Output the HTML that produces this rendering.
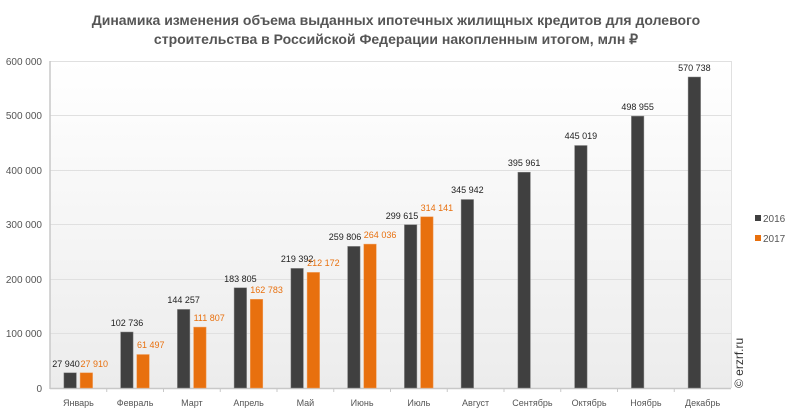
<!DOCTYPE html>
<html><head><meta charset="utf-8"><style>
body{margin:0;background:#fff;width:793px;height:415px;overflow:hidden;font-family:"Liberation Sans",Arial,sans-serif}
</style></head><body>
<svg width="793" height="415" xmlns="http://www.w3.org/2000/svg" font-family="Liberation Sans, Arial, sans-serif">
<defs><linearGradient id="bg" x1="0" y1="0" x2="0" y2="1"><stop offset="0" stop-color="#ffffff"/><stop offset="1" stop-color="#ececec"/></linearGradient></defs>
<text x="396" y="25" text-anchor="middle" font-size="14" font-weight="bold" fill="#555">Динамика изменения объема выданных ипотечных жилищных кредитов для долевого</text>
<text x="396" y="44" text-anchor="middle" font-size="14" font-weight="bold" fill="#555">строительства  в Российской  Федерации накопленным итогом, млн ₽</text>
<rect x="50" y="61" width="681" height="327" fill="url(#bg)"/>
<g stroke="#e0e0e0" stroke-width="1">
<line x1="50" x2="731" y1="61.5" y2="61.5"/><line x1="50" x2="731" y1="115.5" y2="115.5"/><line x1="50" x2="731" y1="170.5" y2="170.5"/><line x1="50" x2="731" y1="224.5" y2="224.5"/><line x1="50" x2="731" y1="279.5" y2="279.5"/><line x1="50" x2="731" y1="333.5" y2="333.5"/>
<line x1="731.5" x2="731.5" y1="61" y2="388"/>
</g>
<g stroke="#c8c8c8" stroke-width="1.5"><line x1="50" x2="50" y1="61" y2="389"/><line x1="50" x2="731" y1="388.5" y2="388.5"/></g>
<g stroke="#c8c8c8"><line x1="106.75" x2="106.75" y1="388" y2="392"/><line x1="163.5" x2="163.5" y1="388" y2="392"/><line x1="220.25" x2="220.25" y1="388" y2="392"/><line x1="277" x2="277" y1="388" y2="392"/><line x1="333.75" x2="333.75" y1="388" y2="392"/><line x1="390.5" x2="390.5" y1="388" y2="392"/><line x1="447.25" x2="447.25" y1="388" y2="392"/><line x1="504" x2="504" y1="388" y2="392"/><line x1="560.75" x2="560.75" y1="388" y2="392"/><line x1="617.5" x2="617.5" y1="388" y2="392"/><line x1="674.25" x2="674.25" y1="388" y2="392"/></g>
<g font-size="10" fill="#555" text-anchor="end">
<text x="42" y="65">600 000</text><text x="42" y="119">500 000</text><text x="42" y="174">400 000</text><text x="42" y="228">300 000</text><text x="42" y="283">200 000</text><text x="42" y="337">100 000</text><text x="42" y="392">0</text>
</g>
<g font-size="9" fill="#555" text-anchor="middle">
<text x="78.4" y="406">Январь</text><text x="135.1" y="406">Февраль</text><text x="191.9" y="406">Март</text><text x="248.6" y="406">Апрель</text><text x="305.4" y="406">Май</text><text x="362.1" y="406">Июнь</text><text x="418.9" y="406">Июль</text><text x="475.6" y="406">Август</text><text x="532.4" y="406">Сентябрь</text><text x="589.1" y="406">Октябрь</text><text x="645.9" y="406">Ноябрь</text><text x="702.6" y="406">Декабрь</text>
</g>
<g fill="#404040" stroke="#888" stroke-width="0.5">
<rect x="63.9" y="372.8" width="12.5" height="15.2"/>
<rect x="120.6" y="332" width="12.5" height="56"/>
<rect x="177.4" y="309.4" width="12.5" height="78.6"/>
<rect x="234.1" y="287.8" width="12.5" height="100.2"/>
<rect x="290.9" y="268.4" width="12.5" height="119.6"/>
<rect x="347.6" y="246.4" width="12.5" height="141.6"/>
<rect x="404.4" y="224.7" width="12.5" height="163.3"/>
<rect x="461.1" y="199.5" width="12.5" height="188.5"/>
<rect x="517.9" y="172.2" width="12.5" height="215.8"/>
<rect x="574.6" y="145.5" width="12.5" height="242.5"/>
<rect x="631.4" y="116.1" width="12.5" height="271.9"/>
<rect x="688.1" y="77" width="12.5" height="311"/>
</g>
<g fill="#e8700e" stroke="#f0a060" stroke-width="0.5">
<rect x="80.1" y="372.8" width="12.5" height="15.2"/>
<rect x="136.8" y="354.5" width="12.5" height="33.5"/>
<rect x="193.6" y="327.1" width="12.5" height="60.9"/>
<rect x="250.3" y="299.3" width="12.5" height="88.7"/>
<rect x="307.1" y="272.4" width="12.5" height="115.6"/>
<rect x="363.8" y="244.1" width="12.5" height="143.9"/>
<rect x="420.6" y="216.8" width="12.5" height="171.2"/>
</g>
<g font-size="9" fill="#222" text-anchor="middle">
<text x="66" y="367">27 940</text>
<text x="127" y="326">102 736</text>
<text x="183.6" y="303">144 257</text>
<text x="240.4" y="282">183 805</text>
<text x="297.1" y="262">219 392</text>
<text x="345" y="240">259 806</text>
<text x="402" y="219">299 615</text>
<text x="467.4" y="193">345 942</text>
<text x="524.1" y="166">395 961</text>
<text x="580.9" y="139">445 019</text>
<text x="637.6" y="110">498 955</text>
<text x="694.4" y="71">570 738</text>
</g>
<g font-size="9" fill="#e8700e" text-anchor="start">
<text x="80.5" y="367">27 910</text>
<text x="137" y="348">61 497</text>
<text x="193.6" y="321">111 807</text>
<text x="250.3" y="293">162 783</text>
<text x="307.1" y="266">212 172</text>
<text x="363.8" y="238">264 036</text>
<text x="420.6" y="211">314 141</text>
</g>
<rect x="755" y="215" width="6" height="6" fill="#404040"/><text x="763" y="222" font-size="10" fill="#555">2016</text>
<rect x="755" y="235" width="6" height="6" fill="#e8700e"/><text x="763" y="242" font-size="10" fill="#555">2017</text>
<text transform="translate(743,388) rotate(-90)" font-size="12" fill="#333">© erzrf.ru</text>
</svg>
</body></html>
